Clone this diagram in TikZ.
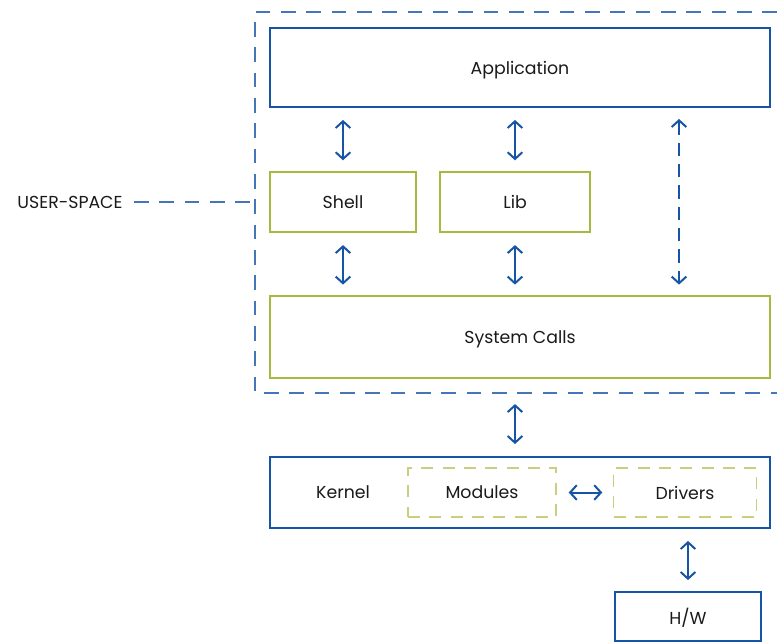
\documentclass[tikz,border=0pt]{standalone}
\usepackage{fontspec}
\setmainfont{Poppins}
\usepackage{xcolor}
\usepackage{tikz}
\usetikzlibrary{arrows.meta,positioning}
\definecolor{kblue}{HTML}{1655A6}
\definecolor{olive}{HTML}{A9B83E}
\definecolor{paleolive}{HTML}{C9CF7E}
\definecolor{ink}{HTML}{1A1A1A}

\begin{document}
\begin{tikzpicture}[
  x=0.75pt,y=-0.75pt,
  every node/.style={font=\fontsize{13}{15}\selectfont,text=ink,text depth=0pt},
  bluebox/.style={draw=kblue,line width=1.7pt,fill=white,inner sep=0pt},
  greenbox/.style={draw=olive,line width=1.6pt,fill=white,inner sep=0pt},
  softbox/.style={draw=paleolive,line width=1.1pt,dash pattern=on 9pt off 7pt,inner sep=0pt},
  dashline/.style={draw=kblue!80,line width=0.9pt,dash pattern=on 11pt off 8pt},
  link/.style={{Straight Barb[length=5pt,width=11pt]}-{Straight Barb[length=5pt,width=11pt]},line width=1.5pt,draw=kblue,shorten <=9pt,shorten >=8pt}
]
\useasboundingbox (0,0) rectangle (777,642);
% user space
\draw[dashline] (777,12) -| (255,393) -- (777,393);
\node (uslbl) at (70,202) {USER-SPACE};
\coordinate (usleft) at (255,202);
\draw[dashline] (uslbl.east) ++(5pt,0) -- (usleft);
% boxes
\node[bluebox,minimum width=375pt,minimum height=59pt] (app) at (520,67.5) {Application};
\node[greenbox,minimum width=109pt,minimum height=45pt] (shell) at (343,202) {Shell};
\node[greenbox,minimum width=112pt,minimum height=45pt] (lib) at (515,202) {Lib};
\node[greenbox,minimum width=375pt,minimum height=61pt] (sys) at (520,337) {System Calls};
\node[bluebox,minimum width=375pt,minimum height=53pt] (kernel) at (520,492.5) {};
\node (kernellbl) at (343,492.5) {Kernel};
\node[softbox,minimum width=111pt,minimum height=37pt] (modules) at (482,492.5) {Modules};
\node[softbox,minimum width=107pt,minimum height=37pt] (drivers) at (685,492.5) {Drivers};
\node[bluebox,minimum width=109pt,minimum height=37pt] (hw) at (688,616.5) {H/W};
\coordinate (tap) at (679,107);
% links
\draw[link] (shell.north |- app.south) -- (shell.north);
\draw[link] (lib.north |- app.south) -- (lib.north);
\draw[link] (shell.south) -- (shell.south |- sys.north);
\draw[link] (lib.south) -- (lib.south |- sys.north);
\draw[link,dash pattern=on 10pt off 6pt] (tap) -- (tap |- sys.north);
\draw[link,shorten <=19pt,shorten >=9pt] (sys.south -| lib) -- (kernel.north -| lib);
\draw[link] (modules.east) -- (drivers.west);
\draw[link] (hw.north |- kernel.south) -- (hw.north);
\end{tikzpicture}
\end{document}
